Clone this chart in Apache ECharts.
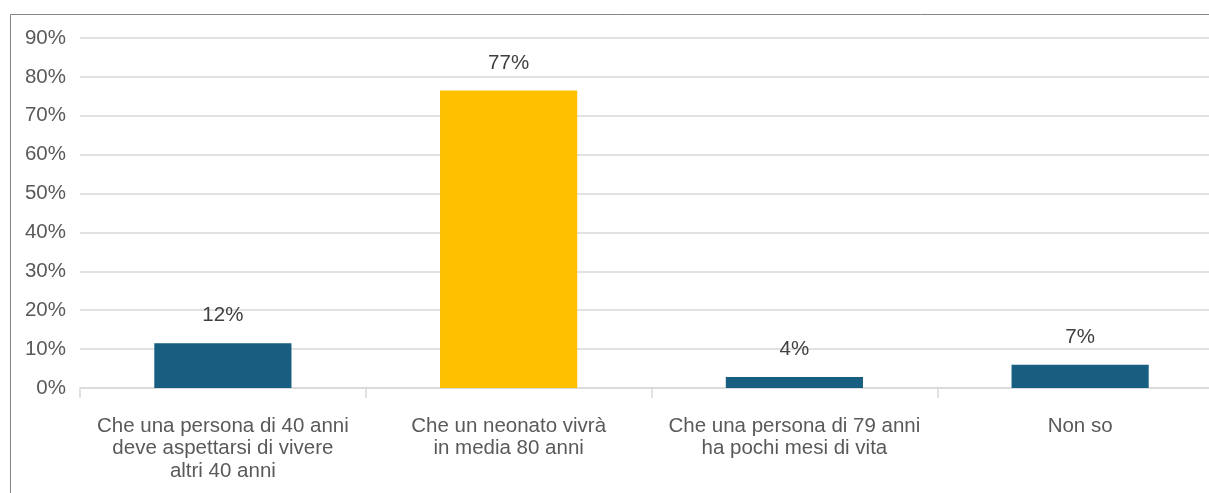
<!DOCTYPE html>
<html>
<head>
<meta charset="utf-8">
<script src="https://cdn.jsdelivr.net/npm/echarts@6/dist/echarts.min.js"></script>
<style>
  html, body { margin: 0; padding: 0; background: #fff; overflow: hidden; }
  #chart { width: 1223px; height: 493px; }
</style>
</head>
<body>
<div id="chart"></div>
<script>
const categories = [
  "Che una persona di 40 anni\ndeve aspettarsi di vivere\naltri 40 anni",
  "Che un neonato vivrà\nin media 80 anni",
  "Che una persona di 79 anni\nha pochi mesi di vita",
  "Non so"
];
// bar heights as drawn, and the data labels printed above them
const values = [11.5, 76.5, 2.8, 6.0];
const valueLabels = ["12%", "77%", "4%", "7%"];
const barColors = ["#175e81", "#ffc000", "#175e81", "#175e81"];
const yTicks = { min: 0, max: 90, step: 10 };

const chart = echarts.init(document.getElementById("chart"));
const font = "'Liberation Sans', Arial, sans-serif";

chart.setOption({
  animation: false,
  textStyle: { fontFamily: font },
  graphic: [{
    type: "rect",
    shape: { x: 10.5, y: 14.5, width: 1400, height: 600 },
    style: { fill: "none", stroke: "#868686", lineWidth: 1 },
    silent: true
  }],
  grid: { left: 80, right: 0, top: 38, bottom: 105, containLabel: false },
  xAxis: {
    type: "category",
    data: categories,
    axisLine: { lineStyle: { color: "#d9d9d9", width: 1.5 } },
    axisTick: { show: true, length: 10, lineStyle: { color: "#d9d9d9", width: 1.5 } },
    axisLabel: {
      color: "#595959", fontSize: 20.5, lineHeight: 22.5, margin: 27,
      interval: 0, fontFamily: font
    }
  },
  yAxis: {
    type: "value",
    min: yTicks.min, max: yTicks.max, interval: yTicks.step,
    axisLine: { show: false },
    axisTick: { show: false },
    splitLine: { lineStyle: { color: "#d9d9d9", width: 1.5 } },
    axisLabel: {
      color: "#595959", fontSize: 20.5, margin: 14, fontFamily: font,
      formatter: "{value}%"
    }
  },
  series: [{
    type: "bar",
    barWidth: "48%",
    data: values.map((v, i) => ({ value: v, itemStyle: { color: barColors[i] } })),
    label: {
      show: true, position: "top", distance: 17,
      color: "#404040", fontSize: 20.5, fontFamily: font,
      formatter: p => valueLabels[p.dataIndex]
    }
  }]
});
</script>
</body>
</html>
